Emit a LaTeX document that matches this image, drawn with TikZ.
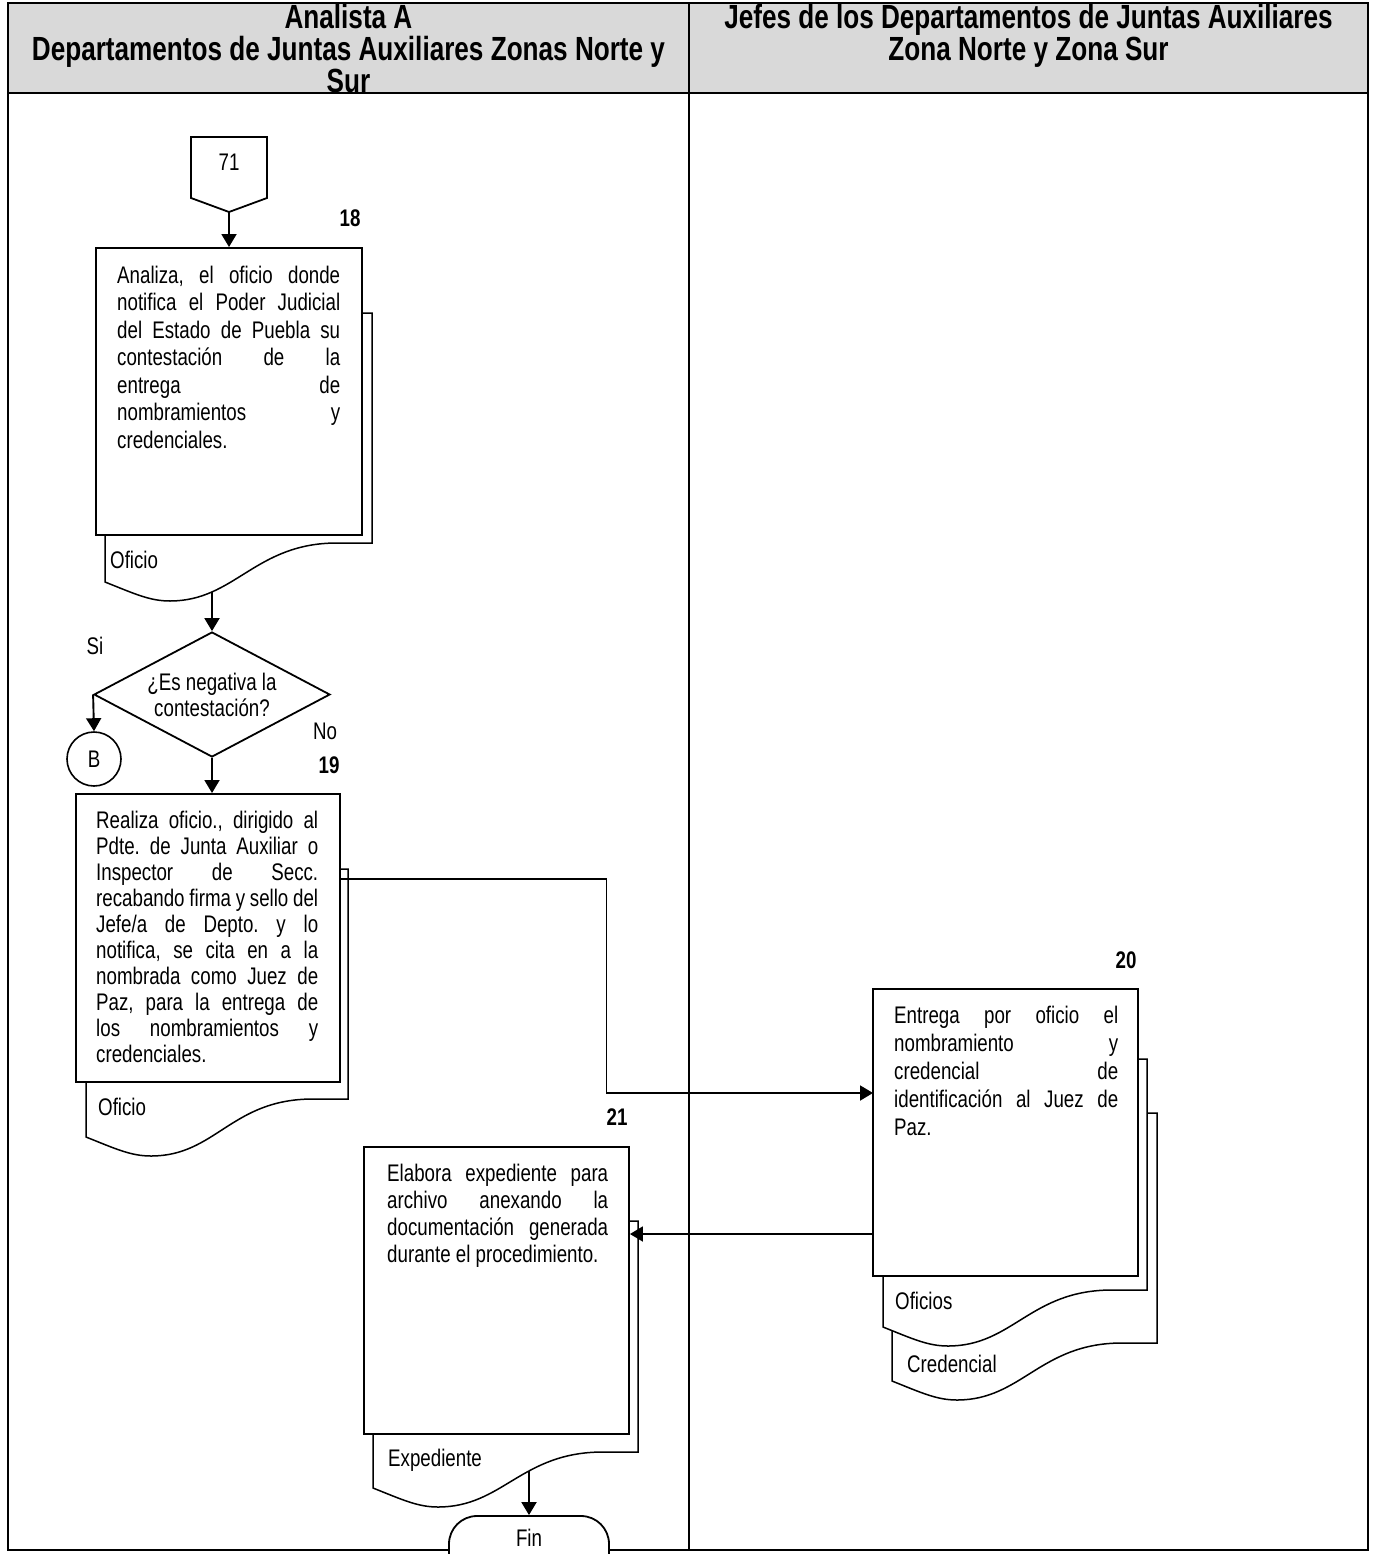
\documentclass[tikz,border=0pt]{standalone}
\usepackage{fontspec}
\setmainfont{Liberation Sans}[FakeStretch=0.78]
\usetikzlibrary{arrows.meta,shapes.geometric,calc}
\hbadness=10000 \hfuzz=30pt
\frenchspacing
\newcommand\jline[1]{\hbox to\hsize{#1}}
\newcommand\lline[1]{\hbox{#1}}
\newcommand\ctrline[1]{\hbox to\hsize{\hfil#1\hfil}}
\newcommand\para[3]{\vtop{\hsize=#1pt\baselineskip=#2pt\lineskiplimit=-30pt\parindent=0pt #3}}
\newcommand\docshape[5]{\draw[docline] (#1,#3) -- (#2,#3) -- (#2,#5) -- ++(-35,0) .. controls +(-82,0) and +(65,0) .. ({#1+65},{#4+19}) .. controls +(-20,0) and +(30,12) .. (#1,#4) -- cycle;}
\tikzset{
  procbox/.style={draw, line width=1.9pt, fill=white, inner sep=0pt, minimum width=265pt, minimum height=287pt},
  docline/.style={line width=1.5pt, fill=white},
  frameline/.style={line width=2.6pt},
  arr/.style={line width=1.9pt, -{Triangle[length=13pt,width=15pt]}},
  txt/.style={inner sep=0pt, font=\fontsize{24}{27}\selectfont},
  num/.style={inner sep=0pt, font=\bfseries\fontsize{24}{27}\selectfont, anchor=base},
  hdr/.style={inner sep=0pt, font=\bfseries\fontsize{33.5}{32}\selectfont, anchor=base},
}
\begin{document}
\begin{tikzpicture}[x=1pt,y=-1pt]
\useasboundingbox (0,0) rectangle (1373,1554);
\begin{scope}
\clip (0,0) rectangle (1373,1554);
% frame and header
\fill[black!15] (8,3) rectangle (1368,93);
\draw[frameline] (8,3) rectangle (1368,1550);
\draw[frameline] (8,93) -- (1368,93);
\draw[frameline] (689,3) -- (689,1550);
\node[hdr] (h1) at (348.5,28.5) {\para{670}{32}{\ctrline{Analista A}\ctrline{Departamentos de Juntas Auxiliares Zonas Norte y}\ctrline{Sur}}};
\node[hdr] (h2) at (1028.5,28.5) {\para{670}{32}{\ctrline{Jefes de los Departamentos de Juntas Auxiliares}\ctrline{Zona Norte y Zona Sur}}};

% documents (behind boxes)
\docshape{105}{372}{313}{582}{543}
\docshape{86}{348}{869}{1137}{1099}
\docshape{892}{1157}{1113}{1381}{1343}
\docshape{883}{1147}{1059}{1327}{1290}
\docshape{373}{638}{1221}{1488}{1452}

% process boxes
\node[procbox, minimum width=266pt] (b18) at (229,391.5) {};
\node[procbox, minimum width=264pt, minimum height=288pt] (b19) at (208,938) {};
\node[procbox] (b20) at (1005.5,1132.5) {};
\node[procbox] (b21) at (496.5,1290.5) {};

% off-page connector 71
\draw[line width=1.8pt, fill=white] (191,137) -- (267,137) -- (267,198) -- (229,212) -- (191,198) -- cycle;
\coordinate (c71) at (229,212);
\node[txt, anchor=base] (t71) at (229,171) {71};

% decision
\node[diamond, draw, line width=1.8pt, fill=white, minimum width=236pt, minimum height=125pt, inner sep=0pt] (dia) at (212,694.5) {};
\node[txt, anchor=base] (dtx) at (212,690) {\para{220}{26}{\ctrline{¿Es negativa la}\ctrline{contestación?}}};
\node[circle, draw, line width=1.6pt, minimum size=54pt, inner sep=0pt, font=\fontsize{24}{27}\selectfont] (nb) at (94,759) {B};

% texts in boxes
\node[txt, anchor=base west] (t18) at (117,283) {\para{223}{27.5}{%
\jline{Analiza, el oficio donde}
\jline{notifica el Poder Judicial}
\jline{del Estado de Puebla su}
\jline{contestación de la}
\jline{entrega de}
\jline{nombramientos y}
\lline{credenciales.}}};
\node[txt, anchor=base west] (t19) at (96,828) {\para{222}{26}{%
\jline{Realiza oficio., dirigido al}
\jline{Pdte. de Junta Auxiliar o}
\jline{Inspector de Secc.}
\jline{recabando firma y sello del}
\jline{Jefe/a de Depto. y lo}
\jline{notifica, se cita en a la}
\jline{nombrada como Juez de}
\jline{Paz, para la entrega de}
\jline{los nombramientos y}
\lline{credenciales.}}};
\node[txt, anchor=base west] (t20) at (894,1023) {\para{224}{28}{%
\jline{Entrega por oficio el}
\jline{nombramiento y}
\jline{credencial de}
\jline{identificación al Juez de}
\lline{Paz.}}};
\node[txt, anchor=base west] (t21) at (387,1181) {\para{221}{27}{%
\jline{Elabora expediente para}
\jline{archivo anexando la}
\jline{documentación generada}
\lline{durante el procedimiento.}}};

% document labels
\node[txt, anchor=base west] (l18) at (110,568) {Oficio};
\node[txt, anchor=base west] (l19) at (98,1115) {Oficio};
\node[txt, anchor=base west] (l20a) at (895,1309) {Oficios};
\node[txt, anchor=base west] (l20b) at (907,1372) {Credencial};
\node[txt, anchor=base west] (l21) at (388,1466) {Expediente};

% step numbers and branch labels
\node[num] (n18) at (350,227) {18};
\node[num] (n19) at (329,773) {19};
\node[num] (n20) at (1126,968) {20};
\node[num] (n21) at (617,1125) {21};
\node[txt, anchor=base] (lsi) at (95,654) {Si};
\node[txt, anchor=base] (lno) at (325,739) {No};

% end terminator
\node[draw, line width=1.8pt, fill=white, rounded corners=28pt, minimum width=160pt, minimum height=80pt, inner sep=0pt] (fin) at (529,1556) {};
\node[txt, anchor=base] (tfin) at (529,1546) {Fin};

% connectors
\coordinate (w18) at (212,592);
\coordinate (s19) at (340,879);
\coordinate (e20) at (873,1093);
\coordinate (s20) at (873,1234);
\coordinate (w21) at (529,1471);
\draw[arr] (c71) -- (b18.north);
\draw[arr] (w18) -- (dia.north);
\draw[arr] (dia.west) -- (nb.north);
\draw[arr] (dia.south) -- (dia.south |- b19.north);
\draw[arr] (s19) -| ($(s19)!0.5!(e20)$) |- (e20);
\draw[arr] (s20) -- (s20 -| b21.east);
\draw[arr] (w21) -- (fin.north);
\end{scope}
\end{tikzpicture}
\end{document}
